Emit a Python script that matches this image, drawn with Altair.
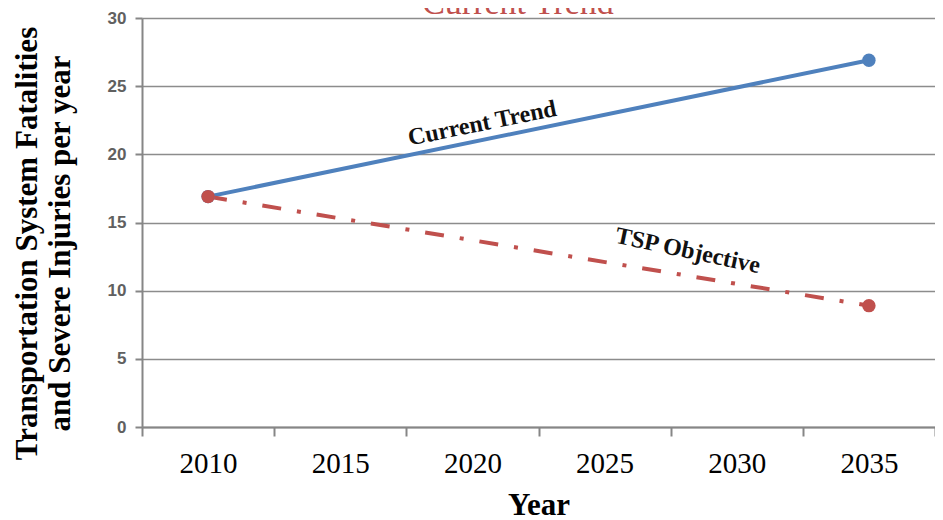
import altair as alt
import pandas as pd

years = ["2010", "2015", "2020", "2025", "2030", "2035"]
current_years = ["2010", "2035"]
current_vals = [16.9, 26.9]
tsp_years = ["2010", "2035"]
tsp_vals = [16.9, 8.9]

title_text = "Current Trend"
cur_label = {"text": "Current Trend", "year": "2020", "value": 22.1}
tsp_label = {"text": "TSP Objective", "year": "2025", "value": 14.2}

blue = "#4f81bd"
red = "#c0504d"

cur = pd.DataFrame({"year": current_years, "value": current_vals})
tsp = pd.DataFrame({"year": tsp_years, "value": tsp_vals})

x = alt.X("year:O", sort=years,
          scale=alt.Scale(type="band", domain=years, paddingInner=0, paddingOuter=0),
          axis=alt.Axis(title="Year", labelAngle=0, tickBand="extent", grid=False,
                        labelFont="Liberation Serif", labelFontSize=29, labelColor="#000",
                        labelPadding=13, tickSize=9, tickColor="#868686", tickWidth=2,
                        domainColor="#868686", domainWidth=2,
                        titleFont="Liberation Serif", titleFontSize=31, titleFontWeight="bold",
                        titleColor="#000", titlePadding=12))
y = alt.Y("value:Q", scale=alt.Scale(domain=[0, 30]),
          axis=alt.Axis(title=["Transportation System Fatalities", "and Severe Injuries per year"],
                        values=[0, 5, 10, 15, 20, 25, 30], grid=True,
                        gridColor="#8c8c8c", gridWidth=1.5,
                        labelFont="Liberation Sans", labelFontSize=17, labelFontWeight="bold",
                        labelColor="#606060", labelPadding=9,
                        tickSize=7, tickColor="#868686", tickWidth=2,
                        domainColor="#868686", domainWidth=2,
                        titleFont="Liberation Serif", titleFontSize=31, titleFontWeight="bold",
                        titleColor="#000", titleLineHeight=33, titlePadding=31, titleY=225))

base_cur = alt.Chart(cur)
base_tsp = alt.Chart(tsp)

cur_line = base_cur.mark_line(color=blue, strokeWidth=4).encode(x=x, y=y)
cur_pts = base_cur.mark_circle(color=blue, size=180, opacity=1).encode(x=x, y=y)
tsp_line = base_tsp.mark_line(color=red, strokeWidth=4, strokeDash=[19, 16, 4, 16]).encode(x=x, y=y)
tsp_pts = base_tsp.mark_circle(color=red, size=180, opacity=1).encode(x=x, y=y)

cur_text = alt.Chart(pd.DataFrame([cur_label])).mark_text(
    font="Liberation Serif", fontSize=24, color="#111", fontWeight="bold",
    angle=348.5, dx=10, baseline="middle", align="center"
).encode(x=x, y=y, text="text:N")

tsp_text = alt.Chart(pd.DataFrame([tsp_label])).mark_text(
    font="Liberation Serif", fontSize=24, color="#111", fontWeight="bold",
    angle=12, dx=85, baseline="middle", align="center"
).encode(x=x, y=y, text="text:N")

title = alt.Chart(pd.DataFrame({"t": [title_text]})).mark_text(
    font="Liberation Serif", fontSize=34, color=red, baseline="alphabetic", align="center"
).encode(x=alt.value(376), y=alt.value(-4), text="t:N")

chart = alt.layer(cur_line, tsp_line, cur_pts, tsp_pts, cur_text, tsp_text, title).properties(
    width=793, height=409,
    autosize=alt.AutoSizeParams(type="none"),
    padding={"left": 134, "top": 10, "right": 0, "bottom": 93},
).configure_view(stroke="#d0d0d0", strokeWidth=2).configure(background="white")

chart.save("out.html", embed_options={"renderer": "svg", "actions": False})
